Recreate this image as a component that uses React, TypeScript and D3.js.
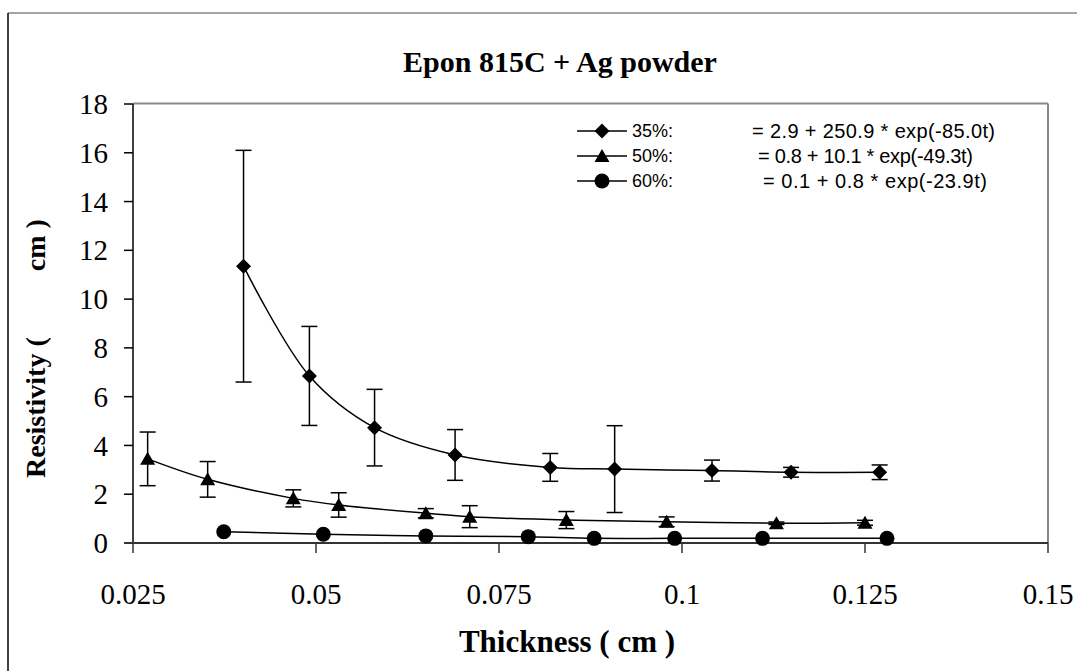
import React from "react";
import * as d3 from "d3";

// 35% Ag
const thick35 = [0.0401, 0.0491, 0.058, 0.069, 0.082, 0.0908, 0.1041, 0.1149, 0.127];
const res35 = [11.35, 6.85, 4.73, 3.61, 3.1, 3.03, 2.97, 2.9, 2.9];
const err35 = [4.75, 2.03, 1.57, 1.04, 0.57, 1.78, 0.43, 0.2, 0.3];

// 50% Ag
const thick50 = [0.027, 0.0352, 0.0469, 0.0531, 0.065, 0.071, 0.0842, 0.0979, 0.1129, 0.125];
const res50 = [3.45, 2.61, 1.83, 1.56, 1.22, 1.08, 0.94, 0.87, 0.81, 0.83];
const err50 = [1.1, 0.73, 0.35, 0.5, 0.19, 0.45, 0.35, 0.2, 0.05, 0.1];

// 60% Ag
const thick60 = [0.0374, 0.051, 0.065, 0.079, 0.088, 0.099, 0.111, 0.128];
const res60 = [0.46, 0.36, 0.29, 0.26, 0.19, 0.19, 0.19, 0.19];

const xTicks = [0.025, 0.05, 0.075, 0.1, 0.125, 0.15];
const xTickLabels = ["0.025", "0.05", "0.075", "0.1", "0.125", "0.15"];
const yTicks = [0, 2, 4, 6, 8, 10, 12, 14, 16, 18];

const legendNames = ["35%:", "50%:", "60%:"];
const legendFits = [
  "= 2.9 + 250.9 * exp(-85.0t)",
  "= 0.8 + 10.1 * exp(-49.3t)",
  "= 0.1 + 0.8 * exp(-23.9t)",
];
const legendMarks = ["diamond", "triangle", "circle"];

const serif = "'Liberation Serif', 'Times New Roman', serif";
const sans = "'Liberation Sans', Arial, sans-serif";

function marker(kind: string, cx: number, cy: number, key: string | number) {
  if (kind === "diamond") {
    const s = 7.5;
    return (
      <path key={key} d={`M${cx},${cy - s}L${cx + s},${cy}L${cx},${cy + s}L${cx - s},${cy}Z`} fill="#000" />
    );
  }
  if (kind === "triangle") {
    return (
      <path key={key} d={`M${cx},${cy - 7}L${cx + 7.5},${cy + 6}L${cx - 7.5},${cy + 6}Z`} fill="#000" />
    );
  }
  return <circle key={key} cx={cx} cy={cy} r={7.5} fill="#000" />;
}

export default function App() {
  const x = d3.scaleLinear().domain([0.025, 0.15]).range([133, 1048]);
  const y = d3.scaleLinear().domain([0, 18]).range([543, 104]);

  const line = d3
    .line<[number, number]>()
    .x((d) => x(d[0]))
    .y((d) => y(d[1]))
    .curve(d3.curveCatmullRom.alpha(0.5));

  const series = [
    { t: thick35, r: res35, e: err35, mark: "diamond" },
    { t: thick50, r: res50, e: err50, mark: "triangle" },
    { t: thick60, r: res60, e: null as number[] | null, mark: "circle" },
  ];

  // legend text geometry: start x and rendered width of each fit label
  const fitX = [752, 758, 763];
  const fitW = [243, 215, 224];

  return (
    <svg
      width={1077}
      height={671}
      style={{ position: "absolute", left: 0, top: 0, display: "block", background: "#fff" }}
    >
      {/* chart area border (runs past the window) */}
      <line x1={8} y1={13} x2={1080} y2={13} stroke="#888" strokeWidth={1.5} />
      <line x1={8} y1={13} x2={8} y2={680} stroke="#000" strokeWidth={1.5} />

      {/* title */}
      <text x={560} y={72} textAnchor="middle" fontFamily={serif} fontWeight="bold" fontSize={30}>
        Epon 815C + Ag powder
      </text>

      {/* plot area border */}
      <line x1={133} y1={103.5} x2={1048} y2={103.5} stroke="#888" strokeWidth={2} />
      <line x1={1048} y1={103.5} x2={1048} y2={543} stroke="#888" strokeWidth={2} />

      {/* y axis */}
      <line x1={133} y1={y(18)} x2={133} y2={y(0)} stroke="#000" strokeWidth={1.5} />
      {yTicks.map((v) => (
        <g key={v}>
          <line x1={124} x2={133} y1={y(v)} y2={y(v)} stroke="#000" strokeWidth={1.5} />
          <text x={108} y={y(v)} dy="0.35em" textAnchor="end" fontFamily={serif} fontSize={29}>
            {v}
          </text>
        </g>
      ))}

      {/* x axis */}
      <line x1={124} y1={543} x2={1048} y2={543} stroke="#333" strokeWidth={2} />
      {xTicks.map((v, i) => (
        <g key={v}>
          <line x1={x(v)} x2={x(v)} y1={543} y2={553} stroke="#333" strokeWidth={1.5} />
          <text x={x(v)} y={604} textAnchor="middle" fontFamily={serif} fontSize={29}>
            {xTickLabels[i]}
          </text>
        </g>
      ))}

      {/* axis titles */}
      <text x={567} y={652} textAnchor="middle" fontFamily={serif} fontWeight="bold" fontSize={31}>
        Thickness ( cm )
      </text>
      <text transform="translate(45,478) rotate(-90)" fontFamily={serif} fontWeight="bold" fontSize={28}>
        Resistivity (<tspan dx={66}>cm )</tspan>
      </text>

      {/* series */}
      {series.map((s, si) => {
        const pts = s.t.map((t, i) => [t, s.r[i]] as [number, number]);
        return (
          <g key={si}>
            <path d={line(pts) || ""} fill="none" stroke="#000" strokeWidth={1.5} />
            {s.e &&
              pts.map((p, i) => {
                const cx = x(p[0]);
                const top = y(p[1] + s.e![i]);
                const bot = y(p[1] - s.e![i]);
                return (
                  <g key={i} stroke="#000" strokeWidth={1.5}>
                    <line x1={cx} x2={cx} y1={top} y2={bot} />
                    <line x1={cx - 8} x2={cx + 8} y1={top} y2={top} />
                    <line x1={cx - 8} x2={cx + 8} y1={bot} y2={bot} />
                  </g>
                );
              })}
            {pts.map((p, i) => marker(s.mark, x(p[0]), y(p[1]), i))}
          </g>
        );
      })}

      {/* legend */}
      {legendNames.map((n, i) => {
        const ly = 131 + i * 25;
        return (
          <g key={n}>
            <line x1={577} x2={627} y1={ly} y2={ly} stroke="#000" strokeWidth={1.5} />
            {marker(legendMarks[i], 602, ly, "m")}
            <text x={632} y={ly} dy="0.35em" fontFamily={sans} fontSize={18}>
              {n}
            </text>
            <text
              x={fitX[i]}
              y={ly}
              dy="0.35em"
              fontFamily={sans}
              fontSize={20}
              textLength={fitW[i]}
              lengthAdjust="spacing"
            >
              {legendFits[i]}
            </text>
          </g>
        );
      })}
    </svg>
  );
}
